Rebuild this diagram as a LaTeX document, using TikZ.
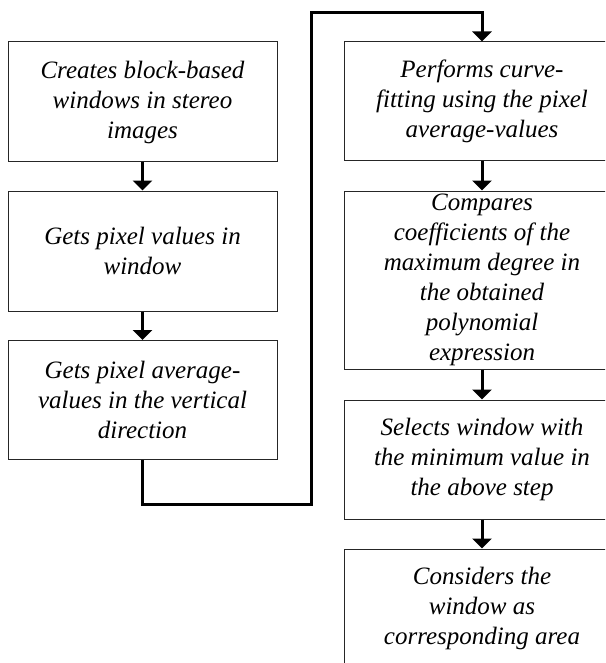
\documentclass[tikz,border=0pt]{standalone}
\usepackage{fontspec}
\setmainfont{Liberation Serif}
\usetikzlibrary{arrows.meta}
\begin{document}
\begin{tikzpicture}[x=1pt,y=-1pt,
  stepbox/.style={draw=black!85,line width=1pt,fill=white,align=center,
    inner sep=0pt,font=\fontsize{25}{30}\selectfont\itshape},
  leftbox/.style={stepbox,minimum width=269pt},
  rightbox/.style={stepbox,minimum width=276pt},
  flow/.style={line width=3pt,-{Triangle[width=19pt,length=10pt]}}]
\useasboundingbox (0,0) rectangle (605,663);
\begin{scope}
\clip (0,0) rectangle (605,663);
% left column
\node[leftbox,minimum height=120pt] (b1) at (142.5,102)
  {Creates block-based\\windows in stereo\\images};
\node[leftbox,minimum height=120pt] (b2) at (142.5,251)
  {Gets pixel values in\\window};
\node[leftbox,minimum height=119pt] (b3) at (142.5,400)
  {Gets pixel average-\\values in the vertical\\direction};
% right column
\node[rightbox,minimum height=119pt] (b4) at (482,101.5)
  {Performs curve-\\fitting using the pixel\\average-values};
\node[rightbox,minimum height=178pt] (b5) at (482,280)
  {Compares\\coefficients of the\\maximum degree in\\the obtained\\polynomial\\expression};
\node[rightbox,minimum height=119pt] (b6) at (482,459.5)
  {Selects window with\\the minimum value in\\the above step};
\node[rightbox,minimum height=119pt] (b7) at (482,608.5)
  {Considers the\\window as\\corresponding area};
% connectors
\coordinate (c1) at (142.5,504);
\coordinate (c2) at (311,504);
\coordinate (c3) at (311,13);
\coordinate (c4) at (482,13);
\draw[flow] (b1.south) -- (b2.north);
\draw[flow] (b2.south) -- (b3.north);
\draw[flow] (b3.south) -- (c1) -- (c2) -- (c3) -- (c4) -- (b4.north);
\draw[flow] (b4.south) -- (b5.north);
\draw[flow] (b5.south) -- (b6.north);
\draw[flow] (b6.south) -- (b7.north);
\end{scope}
\end{tikzpicture}
\end{document}
